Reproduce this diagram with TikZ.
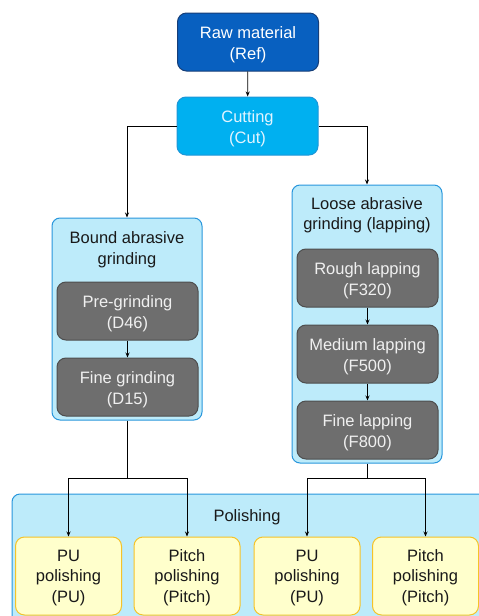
\documentclass[tikz,border=0pt]{standalone}
\usepackage{fontspec}
\setmainfont{Liberation Sans}
\usetikzlibrary{arrows.meta}

\definecolor{rawfill}{RGB}{8,96,192}
\definecolor{rawline}{RGB}{22,62,120}
\definecolor{cutfill}{RGB}{0,176,240}
\definecolor{cutline}{RGB}{30,150,215}
\definecolor{cuttext}{RGB}{225,244,255}
\definecolor{groupfill}{RGB}{189,235,250}
\definecolor{groupline}{RGB}{40,150,220}
\definecolor{stagefill}{RGB}{110,110,110}
\definecolor{stageline}{RGB}{78,78,78}
\definecolor{stagetext}{RGB}{240,240,240}
\definecolor{polfill}{RGB}{255,255,204}
\definecolor{polline}{RGB}{245,195,40}
\definecolor{darktext}{RGB}{25,25,25}

\tikzset{
  txt/.style={font=\fontsize{16.5}{20.5}\selectfont, align=center},
  box/.style={txt, rectangle, rounded corners=9pt, line width=1pt, inner sep=0pt,
    minimum width=141pt, minimum height=58pt, text height=34.5pt, text depth=0.5pt},
  rawbox/.style={box, fill=rawfill, draw=rawline, text=white},
  cutbox/.style={box, fill=cutfill, draw=cutline, text=cuttext},
  stagebox/.style={box, fill=stagefill, draw=stageline, text=stagetext},
  polbox/.style={box, fill=polfill, draw=polline, text=darktext,
    minimum width=106pt, minimum height=78pt, text height=52.5pt},
  groupbox/.style={rectangle, rounded corners=8pt, line width=1pt, inner sep=0pt,
    fill=groupfill, draw=groupline},
  title/.style={txt, text=darktext, inner sep=0pt},
  link/.style={line width=0.8pt, draw=black},
  arr/.style={link, -{Stealth[length=5pt,width=4pt]}},
}

\begin{document}
\begin{tikzpicture}[x=1pt, y=-1pt]

\useasboundingbox (0,0) rectangle (479,616);
\clip (0,0) rectangle (479,616);

% containers
\node[groupbox, minimum width=150pt, minimum height=202pt] (bound) at (127,319) {};
\node[groupbox, minimum width=150pt, minimum height=278pt] (loose) at (367,324) {};
\node[groupbox, minimum width=490pt, minimum height=150pt] (polish) at (257,569) {};

\node[title] (boundtitle) at (127,249.5) {Bound abrasive\\grinding};
\node[title] (loosetitle) at (367,215) {Loose abrasive\\grinding (lapping)};
\node[title] (polishtitle) at (247,517) {Polishing};

% process steps
\node[rawbox] (raw) at (248,42) {Raw material\\(Ref)};
\node[cutbox] (cut) at (247.5,126) {Cutting\\(Cut)};

\node[stagebox] (pregrind) at (127.5,311) {Pre-grinding\\(D46)};
\node[stagebox] (finegrind) at (127.5,387) {Fine grinding\\(D15)};

\node[stagebox] (roughlap) at (367.5,278) {Rough lapping\\(F320)};
\node[stagebox] (mediumlap) at (367.5,354) {Medium lapping\\(F500)};
\node[stagebox] (finelap) at (367.5,430) {Fine lapping\\(F800)};

\node[polbox] (puA) at (68.5,576) {PU\\polishing\\(PU)};
\node[polbox] (pitchA) at (187,576) {Pitch\\polishing\\(Pitch)};
\node[polbox] (puB) at (307,576) {PU\\polishing\\(PU)};
\node[polbox] (pitchB) at (425.5,576) {Pitch\\polishing\\(Pitch)};

\coordinate (boundjoin) at (127,478);
\coordinate (loosejoin) at (367,478);

% connectors
\draw[arr] (raw) -- (cut);
\draw[arr] (cut.west) -| (bound.north);
\draw[arr] (cut.east) -| (loose.north);
\draw[arr] (pregrind) -- (finegrind);
\draw[arr] (roughlap) -- (mediumlap);
\draw[arr] (mediumlap) -- (finelap);

\draw[link] (bound.south) -- (boundjoin);
\draw[arr] (boundjoin) -| (puA.north);
\draw[arr] (boundjoin) -| (pitchA.north);
\draw[link] (loose.south) -- (loosejoin);
\draw[arr] (loosejoin) -| (puB.north);
\draw[arr] (loosejoin) -| (pitchB.north);

\end{tikzpicture}
\end{document}
